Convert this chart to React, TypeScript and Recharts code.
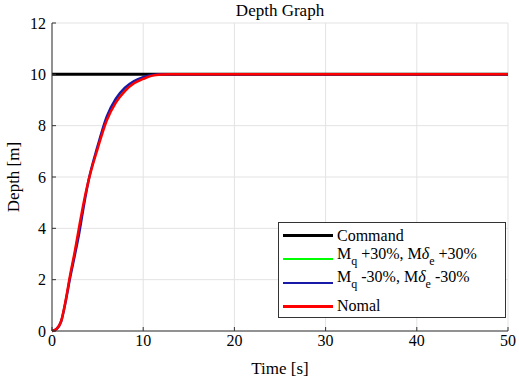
import React from "react";
import { LineChart, Line, XAxis, YAxis, CartesianGrid } from "recharts";

const timeS = [0, 0.5, 1, 1.5, 2, 2.5, 3, 3.5, 4, 5, 6, 7, 8, 9, 10, 11, 12, 13, 15, 20, 30, 40, 50];
const command = [10, 10, 10, 10, 10, 10, 10, 10, 10, 10, 10, 10, 10, 10, 10, 10, 10, 10, 10, 10, 10, 10, 10];
const plus30 = [0, 0.08, 0.38, 1.2, 2.2, 3.1, 4.05, 5.0, 5.85, 7.15, 8.25, 8.95, 9.4, 9.68, 9.85, 9.96, 9.99, 10, 10, 10, 10, 10, 10];
const minus30 = [0, 0.08, 0.37, 1.15, 2.1, 2.95, 3.85, 4.9, 5.85, 7.2, 8.35, 9.05, 9.48, 9.74, 9.89, 9.97, 10, 10, 10, 10, 10, 10, 10];
const nomal = [0, 0.08, 0.38, 1.2, 2.2, 3.1, 4.1, 5.05, 5.85, 7.1, 8.2, 8.9, 9.35, 9.65, 9.82, 9.95, 9.99, 10, 10, 10, 10, 10, 10];

const xTicks = [0, 10, 20, 30, 40, 50];
const yTicks = [0, 2, 4, 6, 8, 10, 12];

const data = timeS.map((t, i) => ({
  t,
  command: command[i],
  plus30: plus30[i],
  minus30: minus30[i],
  nomal: nomal[i],
}));

const FONT = "'Liberation Serif', 'Times New Roman', serif";

const legendItems = [
  { color: "#000000", width: 3, label: "Command" },
  { color: "#00ff00", width: 2, label: "plus" },
  { color: "#1a1aa8", width: 2.5, label: "minus" },
  { color: "#ff0000", width: 2.5, label: "Nomal" },
];

const sub = (s: string) => (
  <span style={{ fontSize: 12, verticalAlign: -6 }}>{s}</span>
);

const renderLabel = (k: string) => {
  if (k === "plus")
    return (
      <>
        M{sub("q")} +30%, M<i>δ</i>{sub("e")} +30%
      </>
    );
  if (k === "minus")
    return (
      <>
        M{sub("q")} -30%, M<i>δ</i>{sub("e")} -30%
      </>
    );
  return <>{k}</>;
};

const CustomLegend = () => (
  <div
    style={{
      position: "absolute",
      left: 278,
      top: 222,
      width: 228,
      height: 96,
      border: "1px solid #333",
      background: "#fff",
      boxSizing: "border-box",
      fontFamily: FONT,
      fontSize: 16,
      color: "#000",
      paddingTop: 1,
    }}
  >
    {legendItems.map((it, i) => (
      <div
        key={i}
        style={{ display: "flex", alignItems: "center", height: 23.5, lineHeight: "18px" }}
      >
        <div
          style={{
            marginLeft: 4,
            width: 50,
            height: it.width,
            background: it.color,
            marginRight: 4,
            flexShrink: 0,
          }}
        />
        <div style={{ whiteSpace: "nowrap", marginTop: i === 1 || i === 2 ? -4 : 0 }}>
          {renderLabel(it.label)}
        </div>
      </div>
    ))}
  </div>
);

export default function App() {
  return (
    <div style={{ position: "absolute", left: 0, top: 0, width: 519, height: 384, background: "#fff" }}>
      <LineChart
        width={519}
        height={384}
        data={data}
        margin={{ top: 23, right: 11, bottom: 0, left: 0 }}
        style={{ fontFamily: FONT }}
      >
        <CartesianGrid stroke="#e3e3e3" strokeWidth={1} />
        <XAxis
          dataKey="t"
          type="number"
          domain={[0, 50]}
          ticks={xTicks}
          tickLine={{ stroke: "#333" }}
          tickSize={-4}
          tickMargin={8}
          axisLine={{ stroke: "#333" }}
          tick={{ fill: "#000", fontFamily: FONT, fontSize: 16 }}
          height={53}
          label={{
            value: "Time [s]",
            position: "insideBottom",
            offset: 10,
            fill: "#000",
            fontFamily: FONT,
            fontSize: 17,
          }}
        />
        <XAxis
          xAxisId="top"
          orientation="top"
          dataKey="t"
          type="number"
          domain={[0, 50]}
          ticks={xTicks}
          tick={false}
          tickLine={{ stroke: "#333" }}
          tickSize={-4}
          axisLine={{ stroke: "#333" }}
          height={0}
        />
        <YAxis
          type="number"
          domain={[0, 12]}
          ticks={yTicks}
          tickLine={{ stroke: "#333" }}
          tickSize={-4}
          tickMargin={10}
          axisLine={{ stroke: "#333" }}
          tick={{ fill: "#000", fontFamily: FONT, fontSize: 16 }}
          width={52}
          label={{
            value: "Depth [m]",
            angle: -90,
            position: "insideLeft",
            offset: 13,
            fill: "#000",
            fontFamily: FONT,
            fontSize: 17,
            style: { textAnchor: "middle" },
          }}
        />
        <YAxis
          yAxisId="right"
          orientation="right"
          type="number"
          domain={[0, 12]}
          ticks={yTicks}
          tick={false}
          tickLine={{ stroke: "#333" }}
          tickSize={-4}
          axisLine={{ stroke: "#333" }}
          width={0}
        />
        <Line type="monotone" dataKey="command" stroke="#000000" strokeWidth={3} dot={false} isAnimationActive={false} />
        <Line type="monotone" dataKey="plus30" stroke="#00ff00" strokeWidth={1.5} dot={false} isAnimationActive={false} />
        <Line type="monotone" dataKey="minus30" stroke="#1a1aa8" strokeWidth={2.5} dot={false} isAnimationActive={false} />
        <Line type="monotone" dataKey="nomal" stroke="#ff0000" strokeWidth={2.5} dot={false} isAnimationActive={false} />
      </LineChart>
      <div
        style={{
          position: "absolute",
          top: 1,
          left: 52,
          width: 456,
          textAlign: "center",
          fontFamily: FONT,
          fontSize: 17,
          color: "#000",
        }}
      >
        Depth Graph
      </div>
      <CustomLegend />
    </div>
  );
}
